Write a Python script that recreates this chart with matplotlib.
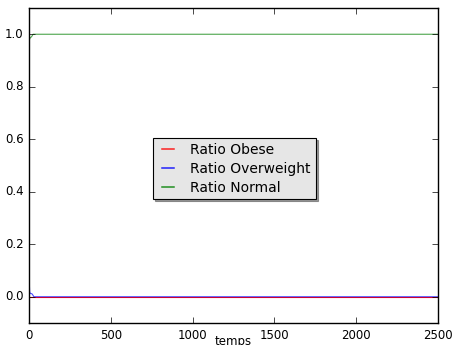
import matplotlib
matplotlib.use("Agg")
import matplotlib.pyplot as plt

plt.style.use("classic")

# temps et ratios
temps = [0, 1, 2, 4, 6, 10, 15, 20, 25, 30, 50, 2500]
ratio_obese = [0.0, 0.0, 0.0, 0.0, 0.0, 0.0, 0.0, 0.0, 0.0, 0.0, 0.0, 0.0]
ratio_overweight = [0.33, 0.15, 0.05, 0.02, 0.015, 0.012, 0.012, 0.01, 0.005, 0.0, 0.0, 0.0]
ratio_normal = [0.96, 0.975, 0.98, 0.982, 0.985, 0.988, 0.99, 0.995, 1.0, 1.0, 1.0, 1.0]

fig = plt.figure(figsize=(4.54, 3.45), dpi=100)
fig.patch.set_facecolor("white")
ax = fig.add_axes([29 / 454, 22 / 345, 409 / 454, 315 / 345])

ax.plot(temps, ratio_obese, color="red", lw=0.8, label="Ratio Obese")
ax.plot(temps, ratio_overweight, color="blue", lw=0.8, alpha=0.7, label="Ratio Overweight")
ax.plot(temps, ratio_normal, color="green", lw=0.8, alpha=0.7, label="Ratio Normal")

ax.set_xlim(0, 2500)
ax.set_ylim(-0.1, 1.1)
ax.set_xticks([0, 500, 1000, 1500, 2000, 2500])
ax.set_yticks([0.0, 0.2, 0.4, 0.6, 0.8, 1.0])
ax.tick_params(labelsize=8.5, length=4, pad=4)
ax.set_xlabel("temps", fontsize=8.5, labelpad=-5)

leg = ax.legend(loc="center", fontsize=10, fancybox=False,
                shadow={"color": "0.35", "alpha": 0.6, "ox": 1.5, "oy": -1.5},
                handlelength=1.45, handletextpad=0.9, borderpad=0.35,
                labelspacing=0.35, bbox_to_anchor=(0.502, 0.49))
leg.get_frame().set_facecolor("#e6e6e6")
leg.get_frame().set_linewidth(0.8)
for line in leg.get_lines():
    line.set_alpha(0.85)
    line.set_linewidth(1.1)

fig.savefig("out.png", dpi=100, facecolor="white")
